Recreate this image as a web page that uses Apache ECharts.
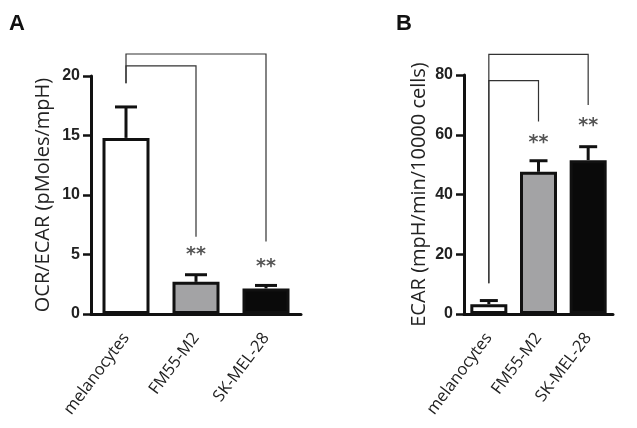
<!DOCTYPE html>
<html><head><meta charset="utf-8">
<script src="https://cdn.jsdelivr.net/npm/echarts@6/dist/echarts.min.js"></script>
<style>html,body{margin:0;padding:0;background:#fff}#c{width:637px;height:428px}</style>
</head><body><div id="c"></div>
<script>
const categories = ['melanocytes', 'FM55-M2', 'SK-MEL-28'];
const ratioMean = [14.8, 2.7, 2.15];
const ratioErr = [17.4, 3.3, 2.4];
const ecarMean = [3.3, 47.6, 51.5];
const ecarErr = [4.5, 51.3, 56];
const ticksA = [0, 5, 10, 15, 20];
const ticksB = [0, 20, 40, 60, 80];
// brackets: [fromCat, toCat, barY, leftEndY, rightEndY]
const bracketsA = [[0, 2, 21.85, 19.4, 6.1], [0, 1, 20.85, 19.4, 6.5]];
const bracketsB = [[0, 2, 86.9, 10.3, 70], [0, 1, 78.1, 10.3, 64.4]];
// stars: [cat, y]
const starsA = [[1, 5.4], [2, 4.4]];
const starsB = [[1, 58.9], [2, 64.7]];

const fills = ['#ffffff', '#a3a3a5', '#0a0a0a'];
const tickFont = {fontFamily: 'Liberation Sans', fontWeight: 'bold', fontSize: 16, color: '#222'};

function errSeries(xi, means, errs, cap) {
  return {
    type: 'custom', xAxisIndex: xi, yAxisIndex: xi, z: 1,
    data: means.map((m, i) => [i, m, errs[i]]),
    renderItem: function (params, api) {
      const p0 = api.coord([api.value(0), api.value(1)]);
      const p1 = api.coord([api.value(0), api.value(2)]);
      return {type: 'group', children: [
        {type: 'line', shape: {x1: p0[0], y1: p0[1], x2: p1[0], y2: p1[1]}, style: {stroke: '#111', lineWidth: 3}},
        {type: 'line', shape: {x1: p1[0] - cap / 2, y1: p1[1], x2: p1[0] + cap / 2, y2: p1[1]}, style: {stroke: '#111', lineWidth: 3}}
      ]};
    }
  };
}
function bracketSeries(xi, br) {
  return {
    type: 'custom', xAxisIndex: xi, yAxisIndex: xi, z: 5, clip: false,
    data: br,
    renderItem: function (params, api) {
      const a = api.coord([api.value(0), api.value(2)]);
      const b = api.coord([api.value(1), api.value(2)]);
      const ae = api.coord([api.value(0), api.value(3)]);
      const be = api.coord([api.value(1), api.value(4)]);
      return {type: 'polyline', shape: {points: [ae, a, b, be]}, style: {stroke: '#333', lineWidth: 1.2, fill: null}};
    }
  };
}
function starSeries(xi, st) {
  return {
    type: 'custom', xAxisIndex: xi, yAxisIndex: xi, z: 5, clip: false,
    data: st,
    renderItem: function (params, api) {
      const p = api.coord([api.value(0), api.value(1)]);
      return {type: 'text', style: {text: '**', x: p[0], y: p[1] + 5, align: 'center', verticalAlign: 'middle', fontSize: 19, fontWeight: 'bold', fontFamily: 'DejaVu Sans', fill: '#555'}};
    }
  };
}
function barSeries(xi, vals, w) {
  return {
    type: 'bar', xAxisIndex: xi, yAxisIndex: xi, barWidth: w, z: 2,
    data: vals.map((v, i) => ({value: v, itemStyle: {color: fills[i], borderColor: '#111', borderWidth: 3}}))
  };
}
function xAx(gi) {
  return {
    type: 'category', gridIndex: gi, data: categories, boundaryGap: true,
    axisLine: {lineStyle: {color: '#111', width: 3}},
    axisTick: {alignWithLabel: true, length: 7, lineStyle: {color: '#111', width: 2.5}},
    axisLabel: {rotate: 53, fontFamily: 'Open Sans', fontSize: 16.5, color: '#222', margin: 21}
  };
}
function yAx(gi, max, interval, name) {
  return {
    type: 'value', gridIndex: gi, min: 0, max: max, interval: interval,
    name: name, nameLocation: 'middle', nameRotate: 90, nameGap: gi === 0 ? 38 : 35,
    nameTextStyle: {fontFamily: 'Open Sans', fontSize: 20, color: '#222'},
    splitLine: {show: false},
    axisLine: {show: true, lineStyle: {color: '#111', width: 3}},
    axisTick: {show: true, length: 8, lineStyle: {color: '#111', width: 2.5}},
    axisLabel: Object.assign({margin: 11}, tickFont)
  };
}

const chart = echarts.init(document.getElementById('c'), null, {renderer: 'canvas'});
chart.setOption({
  backgroundColor: '#fff',
  animation: false,
  graphic: [
    {type: 'text', left: 9, top: 13, style: {text: 'A', fontFamily: 'Liberation Sans', fontWeight: 'bold', fontSize: 22, fill: '#111'}},
    {type: 'text', left: 396, top: 13, style: {text: 'B', fontFamily: 'Liberation Sans', fontWeight: 'bold', fontSize: 22, fill: '#111'}}
  ],
  grid: [
    {left: 91, right: 336, top: 76, bottom: 114},
    {left: 464, right: 24, top: 75, bottom: 114}
  ],
  xAxis: [xAx(0), xAx(1)],
  yAxis: [yAx(0, 20, 5, 'OCR/ECAR (pMoles/mpH)'), yAx(1, 80, 20, 'ECAR (mpH/min/10000 cells)')],
  series: [
    barSeries(0, ratioMean, 47), errSeries(0, ratioMean, ratioErr, 22), bracketSeries(0, bracketsA), starSeries(0, starsA),
    barSeries(1, ecarMean, 37), errSeries(1, ecarMean, ecarErr, 18), bracketSeries(1, bracketsB), starSeries(1, starsB)
  ]
});
</script></body></html>
